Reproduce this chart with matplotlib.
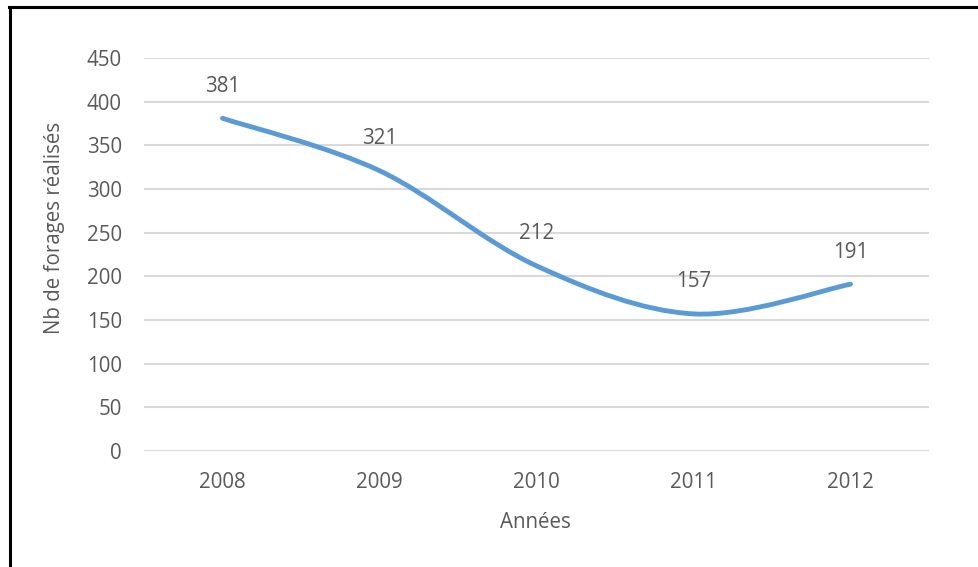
import matplotlib
matplotlib.use("Agg")
import matplotlib.pyplot as plt
from matplotlib.path import Path
from matplotlib.patches import PathPatch
from matplotlib.lines import Line2D
import numpy as np

years = ["2008", "2009", "2010", "2011", "2012"]
values = [381, 321, 212, 157, 191]
y_ticks = [0, 50, 100, 150, 200, 250, 300, 350, 400, 450]
x_label = "Années"
y_label = "Nb de forages réalisés"

plt.rcParams['font.family'] = ['Open Sans', 'DejaVu Sans']
text_color = "#595959"
line_color = "#5B9BD5"
grid_color = "#D9D9D9"
fs = 14.8

fig = plt.figure(figsize=(9.79, 5.67), dpi=100)
fig.patch.set_facecolor("white")
ax = fig.add_axes([144/979, 1-451/567, 785/979, 393/567])

x = np.arange(len(values), dtype=float)
y = np.array(values, dtype=float)
pts = np.column_stack([x, y])
n = len(pts)
verts = [tuple(pts[0])]
codes = [Path.MOVETO]
for i in range(n - 1):
    p0 = pts[i - 1] if i > 0 else pts[i]
    p1 = pts[i]
    p2 = pts[i + 1]
    p3 = pts[i + 2] if i + 2 < n else pts[i + 1]
    c1 = p1 + (p2 - p0) / 6.0
    c2 = p2 - (p3 - p1) / 6.0
    verts += [tuple(c1), tuple(c2), tuple(p2)]
    codes += [Path.CURVE4] * 3
path = Path(verts, codes)
ax.add_patch(PathPatch(path, facecolor="none", edgecolor=line_color,
                       lw=3.5, capstyle="round", joinstyle="round", zorder=3))

for xi, yi in zip(x, y):
    ax.annotate(f"{int(yi)}", (xi, yi), xytext=(0, 23), textcoords="offset points",
                ha="center", va="center", fontsize=fs, color=text_color)

ax.set_xlim(-0.5, n - 0.5)
ax.set_ylim(0, 450)
ax.set_yticks(y_ticks)
ax.set_xticks(x)
ax.set_xticklabels(years)
ax.tick_params(axis="both", length=0, labelsize=fs, labelcolor=text_color)
ax.tick_params(axis="y", pad=16)
ax.tick_params(axis="x", pad=15)
ax.grid(axis="y", color=grid_color, lw=1.5)
ax.set_axisbelow(True)
for s in ax.spines.values():
    s.set_visible(False)

ax.set_xlabel(x_label, fontsize=fs, color=text_color, va="center")
ax.xaxis.set_label_coords(0.499, -0.1807)
ax.set_ylabel(y_label, fontsize=fs, color=text_color, va="center", ha="center")
ax.yaxis.set_label_coords(-0.1134, 0.567)

# outer frame (top and left edges)
fig.add_artist(Line2D([9/979, 1.0], [1-7/567, 1-7/567], transform=fig.transFigure,
                      color="black", lw=2.2))
fig.add_artist(Line2D([10/979, 10/979], [0, 1-7/567], transform=fig.transFigure,
                      color="black", lw=2.2))

fig.savefig("out.png", dpi=100, facecolor="white")
